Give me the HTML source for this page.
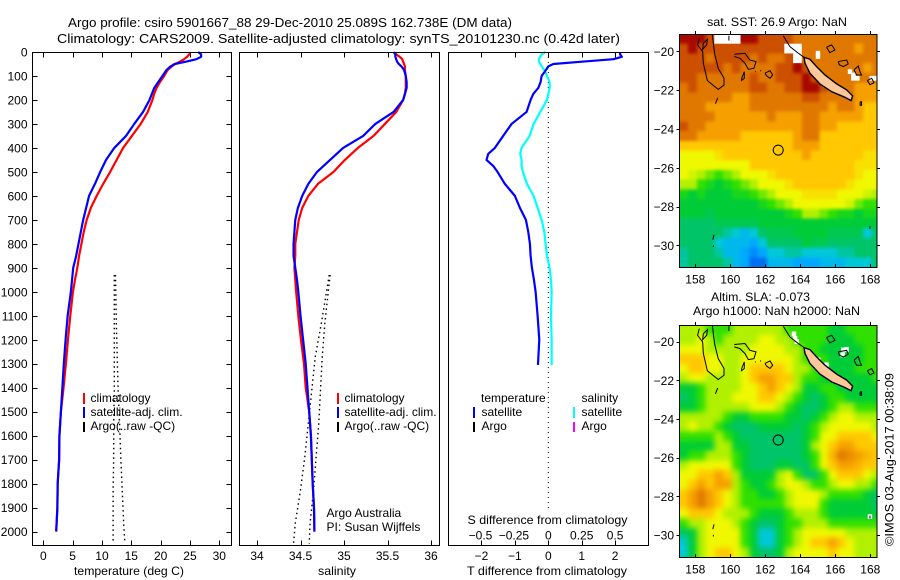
<!DOCTYPE html>
<html lang="en">
<head>
<meta charset="utf-8">
<title>Argo profile chart</title>
<style>
html,body{margin:0;padding:0;background:#fff;}
svg{display:block;}
text{font-family:"Liberation Sans",sans-serif;font-size:12px;fill:#000;}
.ttl{font-size:13px;}
.frame{fill:none;stroke:#000;stroke-width:1;shape-rendering:crispEdges;}
</style>
</head>
<body>
<svg id="chart" xmlns="http://www.w3.org/2000/svg" width="900" height="580" viewBox="0 0 900 580">
  <defs>
    <clipPath id="clip-sst"><rect x="679.5" y="34" width="197" height="233"/></clipPath>
    <clipPath id="clip-sla"><rect x="679.5" y="325" width="197" height="232"/></clipPath>
    <filter id="soft-sst" x="670" y="25" width="215" height="250" filterUnits="userSpaceOnUse" color-interpolation-filters="sRGB">
      <feGaussianBlur stdDeviation="1.7"/>
      <feComponentTransfer><feFuncA type="linear" slope="30"/></feComponentTransfer>
    </filter>
    <filter id="soft-sla" x="670" y="316" width="215" height="250" filterUnits="userSpaceOnUse" color-interpolation-filters="sRGB">
      <feGaussianBlur stdDeviation="3"/>
      <feComponentTransfer><feFuncA type="linear" slope="30"/></feComponentTransfer>
    </filter>
  </defs>
  <rect width="900" height="580" fill="#fff"/>

  <text class="ttl" x="68" y="27" textLength="444" lengthAdjust="spacingAndGlyphs">Argo profile: csiro 5901667_88 29-Dec-2010 25.089S 162.738E (DM data)</text>
  <text class="ttl" x="57" y="43" textLength="563" lengthAdjust="spacingAndGlyphs">Climatology: CARS2009. Satellite-adjusted climatology: synTS_20101230.nc (0.42d later)</text>

  <g id="panel-t"></g>
  <g id="panel-s"></g>
  <g id="panel-d"></g>
  <g id="map-sst"></g>
  <g id="map-sla"></g>

  <rect class="frame" x="32.5" y="52.5" width="199" height="493"/>
  <rect class="frame" x="239.5" y="52.5" width="200" height="493"/>
  <rect class="frame" x="448.5" y="52.5" width="200" height="493"/>

  <text x="74" y="575" textLength="110" lengthAdjust="spacingAndGlyphs">temperature (deg C)</text>
  <text x="318" y="575" textLength="38" lengthAdjust="spacingAndGlyphs">salinity</text>
  <text x="467" y="575" textLength="160" lengthAdjust="spacingAndGlyphs">T difference from climatology</text>
  <text x="467.5" y="524" textLength="160" lengthAdjust="spacingAndGlyphs">S difference from climatology</text>

  <g>
    <rect x="83" y="393" width="2" height="11" fill="#f00"/>
    <rect x="83" y="407" width="2" height="11" fill="#00f"/>
    <rect x="83" y="422" width="2" height="10" fill="#000"/>
    <text x="90.5" y="402">climatology</text>
    <text x="90.5" y="416">satellite-adj. clim.</text>
    <text x="90.5" y="430">Argo(..raw -QC)</text>
  </g>
  <g>
    <rect x="337" y="393" width="2" height="11" fill="#f00"/>
    <rect x="337" y="407" width="2" height="11" fill="#00f"/>
    <rect x="337" y="422" width="2" height="10" fill="#000"/>
    <text x="344.5" y="402">climatology</text>
    <text x="344.5" y="416">satellite-adj. clim.</text>
    <text x="344.5" y="430">Argo(..raw -QC)</text>
    <text x="326.5" y="517">Argo Australia</text>
    <text x="326.5" y="531">PI: Susan Wijffels</text>
  </g>
  <g>
    <text x="481" y="402">temperature</text>
    <text x="581.5" y="402">salinity</text>
    <rect x="473" y="407" width="2" height="11" fill="#00f"/>
    <rect x="473" y="422" width="2" height="10" fill="#000"/>
    <rect x="573" y="407" width="2" height="11" fill="#0ff"/>
    <rect x="573" y="422" width="2" height="10" fill="#f0f"/>
    <text x="481.5" y="416">satellite</text>
    <text x="481.5" y="430">Argo</text>
    <text x="581.5" y="416">satellite</text>
    <text x="581.5" y="430">Argo</text>
  </g>

  <text x="707" y="26" textLength="140" lengthAdjust="spacingAndGlyphs">sat. SST: 26.9 Argo: NaN</text>
  <text x="711" y="301" textLength="99" lengthAdjust="spacingAndGlyphs">Altim. SLA: -0.073</text>
  <text x="693" y="315" textLength="167" lengthAdjust="spacingAndGlyphs">Argo h1000: NaN h2000: NaN</text>
  <text transform="translate(893.5,546) rotate(-90)" textLength="173" lengthAdjust="spacingAndGlyphs">©IMOS 03-Aug-2017 00:38:09</text>
</svg>

<script>
// ---------- profile data ----------
const depthLevels = [0,10,20,30,40,50,60,75,100,125,150,175,200,250,300,350,400,450,500,550,600,650,700,750,800,850,900,950,1000,1100,1200,1300,1400,1500,1600,1700,1800,1900,2000];
const tempClim = [25.0,24.9,24.5,24.0,23.3,22.5,21.9,21.2,20.6,19.9,19.3,18.9,18.6,17.8,16.6,15.1,13.6,12.5,11.4,10.2,9.1,8.1,7.4,6.9,6.5,6.1,5.8,5.4,5.05,4.6,4.2,3.85,3.45,3.0,2.75,2.7,2.45,2.4,2.2];
const tempSat = [26.4,26.9,26.9,26.1,24.4,22.4,21.7,21.0,20.3,19.6,18.9,18.5,18.1,17.0,15.5,14.1,12.1,10.7,9.7,8.8,7.8,7.3,6.8,6.4,6.0,5.6,5.1,4.9,4.7,4.15,3.8,3.5,3.25,3.0,2.75,2.7,2.45,2.4,2.2];
const salClim = [35.59,35.6,35.64,35.67,35.68,35.69,35.7,35.7,35.71,35.71,35.71,35.7,35.68,35.6,35.47,35.34,35.16,35.01,34.88,34.7,34.59,34.52,34.48,34.46,34.44,34.44,34.43,34.44,34.45,34.475,34.505,34.54,34.56,34.6,34.62,34.63,34.64,34.655,34.66];
const salSat = [35.57,35.59,35.59,35.6,35.61,35.63,35.66,35.69,35.71,35.72,35.72,35.7,35.68,35.57,35.36,35.22,34.99,34.84,34.69,34.59,34.52,34.47,34.44,34.43,34.42,34.42,34.44,34.46,34.475,34.5,34.53,34.56,34.58,34.6,34.62,34.63,34.64,34.655,34.66];

const diffDepths = [0,10,20,30,40,50,60,75,100,125,150,175,200,250,300,350,400,425,450,475,500,550,600,650,700,750,800,850,900,950,1000,1100,1200,1305];
const tempDiff = [2.15,2.15,2.2,1.95,1.05,0.15,0,-0.07,-0.2,-0.23,-0.3,-0.45,-0.53,-0.65,-1.1,-1.35,-1.6,-1.8,-1.85,-1.65,-1.52,-1.3,-1.0,-0.85,-0.67,-0.6,-0.55,-0.53,-0.49,-0.43,-0.38,-0.32,-0.27,-0.31];
const salDiff = [-0.02,-0.05,-0.06,-0.07,-0.07,-0.06,-0.05,-0.03,-0.01,0.01,0.01,0,-0.01,-0.06,-0.11,-0.14,-0.2,-0.21,-0.2,-0.2,-0.19,-0.16,-0.11,-0.08,-0.05,-0.03,-0.02,-0.01,0.01,0.02,0.025,0.02,0.025,0.025];

const argoDepths = [930,1131,1270,1409,1548,1687,1826,1965,2050];
const argoTempA = [12.1,12.1,12.1,12.1,12.0,12.0,11.9,11.9,11.9];
const argoTempB = [12.3,12.45,12.6,12.75,13.0,13.2,13.45,13.7,13.9];
const argoSalA = [34.83,34.74,34.67,34.63,34.59,34.55,34.5,34.44,34.42];
const argoSalB = [34.84,34.78,34.75,34.73,34.71,34.68,34.65,34.61,34.6];

const depthTicks = [0,100,200,300,400,500,600,700,800,900,1000,1100,1200,1300,1400,1500,1600,1700,1800,1900,2000];
const tempTicks = [0,5,10,15,20,25,30];
const salTicks = [34,34.5,35,35.5,36];
const diffTicksT = [-2,-1,0,1,2];
const diffTicksS = [-0.5,-0.25,0,0.25,0.5];
const diffTickLabelsS = ["\u22120.5","\u22120.25","0","0.25","0.5"];

// ---------- map data (colour levels on a half-degree grid, null = no data) ----------
const N = null;
const sstRows = [
[12,12,12,11,N,N,N,12,12,11,11,11,11,10,10,10,10,10,10,10,10,10,10],
[11,12,11,11,11,11,11,11,11,11,11,11,N,N,10,10,10,10,10,10,9,10,10],
[11,11,11,10,11,11,11,11,10,11,10,10,11,N,10,10,10,10,10,10,10,10,10],
[11,11,11,11,11,10,11,10,10,10,10,11,11,12,11,10,10,10,10,10,10,9,10],
[11,11,10,10,10,10,10,10,11,10,10,11,11,11,12,11,10,10,10,10,10,10,10],
[10,11,10,10,10,10,10,10,11,11,10,10,11,11,12,12,11,10,10,10,9,9,9],
[10,10,10,10,10,10,9,9,10,10,10,10,10,10,11,11,10,10,10,10,9,9,9],
[10,10,10,9,9,9,9,9,10,10,10,10,10,10,10,10,10,9,10,10,9,8,8],
[10,10,10,10,9,9,9,9,9,9,10,9,9,9,10,10,9,9,9,9,9,8,8],
[11,10,10,9,9,9,9,9,9,9,9,9,9,9,10,10,9,9,8,8,8,8,8],
[10,10,9,9,9,9,9,8,8,8,8,8,8,9,10,10,8,8,8,8,8,8,8],
[8,8,8,8,8,8,8,8,8,8,8,8,8,9,9,9,8,8,8,8,8,8,8],
[7,7,7,7,7.5,8,8,8,8,8,8,8,8,8,9,8,8,8,8,8,8,7.5,7.5],
[7,7,7,7,7,7,7,7,8,8,8,8,8,8,8,8,8,8,8,8,7.5,7.5,7.5],
[7,6.5,6,5.5,5,5.5,6,7,7,7,7.5,8,8,8,8,8,8,8,8,8,7.5,7,7],
[6,6,5,4.5,4,4.5,5,5.5,6,7,7,7,7.5,8,8,8,8,8,8,7.5,7,7,7],
[4.5,4,4.5,4,4,4,4.5,4.5,5,5.5,6,7,7,7,7.5,7.5,7.5,7.5,7,7,7,6.5,6],
[4,4,4,4,4,4,4,4,4,4.5,5,5.5,6,7,7,7,7,7,7,6.5,5.5,5,5],
[4,4,4,3.5,4,4,4,4,4,4,4,4,4.5,5,6,6,5.5,5,4.5,4.5,4,4.5,4.5],
[3,3,3,3,3.5,3.5,3.5,3.5,3.5,4,4,4,4,4,4,4,4,4,4,4,4,4,4],
[3,3,3,3,3,2.5,2,1.5,2,3,3.5,3.5,3.5,4,4,4,4,3.5,3.5,3.5,3.5,2,3],
[3,3,3,3,2,1.5,1.5,1.5,1,2,3,3,3,3,4,3.5,3.5,3,3,3,3,3,3],
[2.5,3,3,3,2.5,1.5,1.5,1,0.5,1,2,2,2.5,2.5,2,2,2,2,2.5,2.5,3,3,3],
[2.5,3,3,3,3,2.5,1.5,1,0,0,1.5,1.5,1.5,1,1,1,1.5,1.5,1.5,2,2,2,3]
];
const slaRows = [
[6,6,6,5,5,5,6,6,6,6,6,6,5,5,5,5,5,4,4,5,5,5,5],
[6,6,7,6,5,6,6,6,6,7,7,6,6,5,5,5,5,4,4,4,5,5,5],
[7,7,7,6,6,6,6,6,7,7,7,7,6,6,5,5,4,4,4,4,4,5,5],
[8,8,8,7,7,6,6,7,7,7,7,7,7,6,5,5,5,4,4,4,4,5,5],
[7,8,8,7,7,6,6,7,8,8,8,8,7,6,6,5,5,4,4,4,5,5,5],
[6,7,7,6,6,6,6,7,8,9,9,8,8,6,5,5,4,4,4,4,4,4,5],
[4,4,5,6,6,6,6,7,7,8,9,8,7,6,4,4,5,5,4,4,4,4,4],
[3,4,5,6,6,6,7,7,7,8,8,7,6,5,4,3,4,5,5,4,4,4,4],
[4,4,5,6,6,6,6,6,7,7,7,6,5,4,3,3,4,5,6,6,5,5,5],
[6,6,6,6,6,5,4,4,5,5,5,5,4,4,3,4,5,6,7,7,6,6,6],
[6,7,6,6,5,4,3,3,3,4,4,4,4,3,4,5,6,7,7,7,7,7,6],
[5,5,5,5,6,5,4,3,3,3,3,3,3,3,4,5,7,7,8,8,8,8,7],
[4,4,4,4,6,6,4,4,3,3,3,3,3,3,4,6,7,8,9,9,8,8,8],
[4,5,5,6,6,6,5,4,3,3,3,3,3,3,4,5,7,8.5,10,9.5,9,8.5,8],
[6,7,7,7,7,7,5,4,3,3,3,4,4,3,3,5,7,8,9,9,8.5,8,8],
[7,7,8,8,9,8,6,4,4,4,4,6,7,5,3,3,5,7,8,8,8,7,6],
[7,8,9,8,9,9,6,5,4,4,5,6,7,7,6,5,5,6,7,7,6,6,5],
[8,9,10,9,8,7,6,5,5,4,4,5,6,7,7,7,6,5,5,5,5,4,3],
[8,9,10,9,8,7,6,5,5,5,5,5,6,7,7,7,5,4,4,4,4,4,3],
[7,8,8,8,7,6,6,6,5,4,4,4,5,6,6,6,5,4,4,4,4,4,4],
[5,6,6,7,7,7,6,5,4,3,3,4,5,5,6,6,6,5,5,5,5,5,5],
[3,4,6,7,7,7,7,5,4,2,2,4,5,6,7,7,7,7,7,6,6,6,6],
[2,4,6,7,7,7,7,5,4,2,2,4,5,6,7,8,8,9,8,7,6,6,6],
[2,4,6,7,8,8,7,6,4,3,3,4,6,7,7,7,7,8,7,7,6,6,6]
];
const levelColours = ["#0070f0","#00a8ff","#00c8d8","#00c468","#00cc38","#30e000","#b0f000","#f0f800","#ffc800","#f5a000","#e07800","#cc5000","#a80800"];

const mapLonTicks = [158,160,162,164,166,168];
const mapLatTicks = [-20,-22,-24,-26,-28,-30];
const floatLon = 162.738;
const floatLat = -25.089;

const sstGapLon = [165.01,165.01,167.03,167.03,166.84,167.26,168.08,168.27];
const sstGapLat = [-20.10,-20.27,-21.22,-21.39,-21.05,-21.39,-21.39,-21.39];
const slaGapLon = [163.64,163.7,163.8,166.46,166.65,166.42,165.5,165.03,167.98];
const slaGapLat = [-19.6,-19.83,-20.0,-20.43,-20.4,-20.69,-21.2,-20.95,-29.05];

const landLon = [164.21,164.55,164.93,165.41,166.08,166.65,166.99,166.9,166.55,165.79,165.12,164.55,164.27];
const landLat = [-20.31,-20.41,-20.79,-21.22,-21.68,-21.99,-22.3,-22.54,-22.37,-22.08,-21.68,-21.13,-20.62];
const reefOutlines = [
 {lon:[158.23,158.13,158.42,158.46,158.69,159.31,159.64,159.64,159.31,159.12,159.03,158.97],lat:[-19.33,-19.67,-20.02,-20.62,-21.51,-21.96,-21.74,-21.39,-20.88,-20.19,-19.59,-19.11]},
 {lon:[158.46,158.69,158.65,158.42,158.46],lat:[-19.59,-19.38,-19.67,-19.9,-19.59]},
 {lon:[160.23,160.84,161.12,161.47,161.35,161.03,160.84,160.55,160.23],lat:[-20.15,-20.1,-20.45,-20.53,-20.88,-20.93,-20.62,-20.36,-20.27]},
 {lon:[160.65,160.8,160.8,160.65,160.65],lat:[-21.39,-21.05,-21.39,-21.5,-21.39]},
 {lon:[161.41,161.46],lat:[-21.05,-21.05]},
 {lon:[161.7,161.76],lat:[-21.0,-21.0]},
 {lon:[161.98,162.27,162.42,162.27,162.08,161.98],lat:[-21.13,-21.0,-21.22,-21.39,-21.27,-21.13]},
 {lon:[163.03,163.41,163.89,164.21],lat:[-19.21,-19.76,-20.1,-20.31]},
 {lon:[165.5,165.79,165.98,165.69,165.5],lat:[-19.79,-19.67,-19.93,-20.07,-19.79]},
 {lon:[166.17,166.65,166.74,166.46,166.23,166.17],lat:[-20.53,-20.45,-20.65,-20.79,-20.7,-20.53]},
 {lon:[167.07,167.31,167.41,167.5,167.22,167.07],lat:[-20.96,-20.76,-21.05,-21.22,-21.22,-20.96]},
 {lon:[167.83,168.08,168.21,167.98,167.83],lat:[-21.51,-21.39,-21.62,-21.72,-21.51]},
 {lon:[167.42,167.5,167.5,167.42,167.42],lat:[-22.6,-22.6,-22.78,-22.78,-22.6]},
 {lon:[159.15,159.28,159.15],lat:[-22.7,-22.4,-22.7]},
 {lon:[159.92,159.92],lat:[-19.2,-19.45]},
 {lon:[159.0,159.07],lat:[-29.7,-29.45]},
 {lon:[159.03,159.03],lat:[-30.0,-30.08]},
 {lon:[167.98,167.98],lat:[-29.0,-29.15]}
];

// ---------- axis functions ----------
const yDepth = d => 52 + d * 0.2398;
const xTemp = t => 43.3 + t * 5.867;
const xSal = s => 257 + (s - 34) * 87;
const xDiffT = t => 548.3 + t * 33.4;
const xDiffS = s => 548.3 + s * 133.6;

const SVGNS = "http://www.w3.org/2000/svg";
function make(tag, parent, attrs) {
  const node = document.createElementNS(SVGNS, tag);
  for (const key in attrs) node.setAttribute(key, attrs[key]);
  parent.appendChild(node);
  return node;
}
function pathFrom(xs, ys) {
  return xs.map((x, i) => (i ? "L" : "M") + x.toFixed(2) + " " + ys[i].toFixed(2)).join("");
}
function levelColour(v) {
  const c = Math.max(0, Math.min(levelColours.length - 1, v));
  const a = Math.floor(c), b = Math.min(levelColours.length - 1, a + 1), f = c - a;
  const hex = h => [1, 3, 5].map(i => parseInt(h.substr(i, 2), 16));
  const A = hex(levelColours[a]), B = hex(levelColours[b]);
  return "rgb(" + A.map((q, i) => Math.round(q + (B[i] - q) * f)).join(",") + ")";
}

// ---------- profile panels ----------
const panelT = document.getElementById("panel-t");
const panelS = document.getElementById("panel-s");
const panelD = document.getElementById("panel-d");

depthTicks.forEach(d => {
  const y = Math.round(yDepth(d)) + 0.5;
  const label = make("text", panelT, {x: 27.5, y: yDepth(d) + 4.5, "text-anchor": "end"});
  label.textContent = String(d);
  
  
  const left = make("line", panelT, {x1: 32.5, x2: 37.5, y1: y, y2: y, stroke: "#000", "shape-rendering": "crispEdges"});
  
  
  const right = make("line", panelT, {x1: 226.5, x2: 231.5, y1: y, y2: y, stroke: "#000", "shape-rendering": "crispEdges"});
  
  
});

function xTicks(parent, values, scale, labels, labelY, top, bottom) {
  values.forEach((v, i) => {
    const x = Math.round(scale(v)) + 0.5;
    if (top) {
      const t = make("line", parent, {x1: x, x2: x, y1: 52.5, y2: 57.5, stroke: "#000", "shape-rendering": "crispEdges"});
      
      
    }
    if (bottom) {
      const b = make("line", parent, {x1: x, x2: x, y1: 540.5, y2: 545.5, stroke: "#000", "shape-rendering": "crispEdges"});
      
      
    }
    if (labels) {
      const l = make("text", parent, {x: scale(v), y: labelY, "text-anchor": "middle"});
      l.textContent = labels[i];
      
      
    }
  });
}
xTicks(panelT, tempTicks, xTemp, tempTicks.map(String), 560, true, true);
xTicks(panelS, salTicks, xSal, salTicks.map(String), 560, true, true);
xTicks(panelD, diffTicksT, xDiffT, diffTicksT.map(v => String(v).replace("-", "\u2212")), 560, true, true);
diffTicksS.forEach((v, i) => {
  const l = make("text", panelD, {x: xDiffS(v) - (i < 2 ? 1 : 0), y: 539.5, "text-anchor": "middle"});
  l.textContent = diffTickLabelsS[i];
  
  
});

const zeroLine = make("line", panelD, {x1: xDiffT(0), x2: xDiffT(0), y1: 52, y2: 508, stroke: "#000", "stroke-width": 1, "stroke-dasharray": "1 4"});



function drawProfile(parent, xs, ds, colour, width) {
  const p = make("path", parent, {d: pathFrom(xs, ds.map(yDepth)), fill: "none", stroke: colour, "stroke-width": width, "stroke-linejoin": "round"});
  return p;
}
function drawDots(parent, xs, ds) {
  const p = make("path", parent, {d: pathFrom(xs, ds.map(yDepth)), fill: "none", stroke: "#000", "stroke-width": 1.4, "stroke-dasharray": "1.5 3.3"});
  return p;
}

const argoT1 = drawDots(panelT, argoTempA.map(xTemp), argoDepths);


const argoT2 = drawDots(panelT, argoTempB.map(xTemp), argoDepths);


const redT = drawProfile(panelT, tempClim.map(xTemp), depthLevels, "#f00", 2.2);


const blueT = drawProfile(panelT, tempSat.map(xTemp), depthLevels, "#00f", 2.2);



const argoS1 = drawDots(panelS, argoSalA.map(xSal), argoDepths);


const argoS2 = drawDots(panelS, argoSalB.map(xSal), argoDepths);


const redS = drawProfile(panelS, salClim.map(xSal), depthLevels, "#f00", 2.2);


const blueS = drawProfile(panelS, salSat.map(xSal), depthLevels, "#00f", 2.2);



const cyanD = drawProfile(panelD, salDiff.map(xDiffS), diffDepths, "#0ff", 2.2);


const blueD = drawProfile(panelD, tempDiff.map(xDiffT), diffDepths, "#00f", 2.2);



// ---------- maps ----------
function drawMap(groupId, clipId, softId, rows, gapLon, gapLat, top, bottom, topLat, labelY) {
  const g = document.getElementById(groupId);
  const xLon = lon => 695.3 + (lon - 158) * 17.5;
  const yLat = lat => top + (topLat - lat) * ((bottom - top) / 12);
  const clipped = make("g", g, {"clip-path": "url(#" + clipId + ")"});
  
  
  const cells = make("g", clipped, {filter: "url(#" + softId + ")"});
  
  
  const cw = 0.5 * 17.5, ch = (bottom - top) / 24;
  rows.forEach((row, r) => {
    row.forEach((v, c) => {
      if (v === null) return;
      const cell = make("rect", cells, {x: 679.3 + c * cw, y: top + r * ch, width: cw + 0.4, height: ch + 0.4, fill: levelColour(v), "shape-rendering": "crispEdges"});
      
      
    });
  });
  rows.forEach((row, r) => {
    row.forEach((v, c) => {
      if (v !== null) return;
      const hole = make("rect", clipped, {x: 679.3 + c * cw, y: top + r * ch, width: cw, height: ch, fill: "#fff"});
      
      
    });
  });
  gapLon.forEach((lon, i) => {
    const gap = make("rect", clipped, {x: xLon(lon) - 2.2, y: yLat(gapLat[i]) - 2.4, width: 4.4, height: 4.8, fill: "#fff"});
    
    
  });
  const land = make("path", clipped, {d: pathFrom(landLon.map(xLon), landLat.map(yLat)) + "Z", fill: "#ffc89a", stroke: "#000", "stroke-width": 1.4});
  
  
  reefOutlines.forEach(o => {
    const reef = make("path", clipped, {d: pathFrom(o.lon.map(xLon), o.lat.map(yLat)), fill: "none", stroke: "#000", "stroke-width": 1});
    
    
  });
  const ring = make("circle", g, {cx: xLon(floatLon), cy: yLat(floatLat), r: 5, fill: "none", stroke: "#000", "stroke-width": 1});
  
  

  const frame = make("rect", g, {x: 679.5, y: top + 0.5, width: 197.5, height: bottom - top, fill: "none", stroke: "#000", "stroke-width": 1, "shape-rendering": "crispEdges"});
  
  

  mapLonTicks.forEach(lon => {
    const x = Math.round(xLon(lon)) + 0.5;
    const t = make("line", g, {x1: x, x2: x, y1: top - 3, y2: top + 0.5, stroke: "#000", "shape-rendering": "crispEdges"});
    
    
    const b = make("line", g, {x1: x, x2: x, y1: bottom - 3, y2: bottom + 0.5, stroke: "#000", "shape-rendering": "crispEdges"});
    
    
    const l = make("text", g, {x: xLon(lon), y: labelY, "text-anchor": "middle"});
    l.textContent = String(lon);
    
    
  });
  mapLatTicks.forEach(lat => {
    const y = Math.round(yLat(lat)) + 0.5;
    const t = make("line", g, {x1: 676.5, x2: 679.5, y1: y, y2: y, stroke: "#000", "shape-rendering": "crispEdges"});
    
    
    const r = make("line", g, {x1: 877, x2: 880, y1: y, y2: y, stroke: "#000", "shape-rendering": "crispEdges"});
    
    
    const l = make("text", g, {x: 674, y: yLat(lat) + 4.5, "text-anchor": "end"});
    l.textContent = String(lat).replace("-", "\u2212");
    
    
  });
}
drawMap("map-sst", "clip-sst", "soft-sst", sstRows, sstGapLon, sstGapLat, 34, 267, -19.11, 283.5);
drawMap("map-sla", "clip-sla", "soft-sla", slaRows, slaGapLon, slaGapLat, 325, 557, -19.14, 573.5);
</script>
</body>
</html>
